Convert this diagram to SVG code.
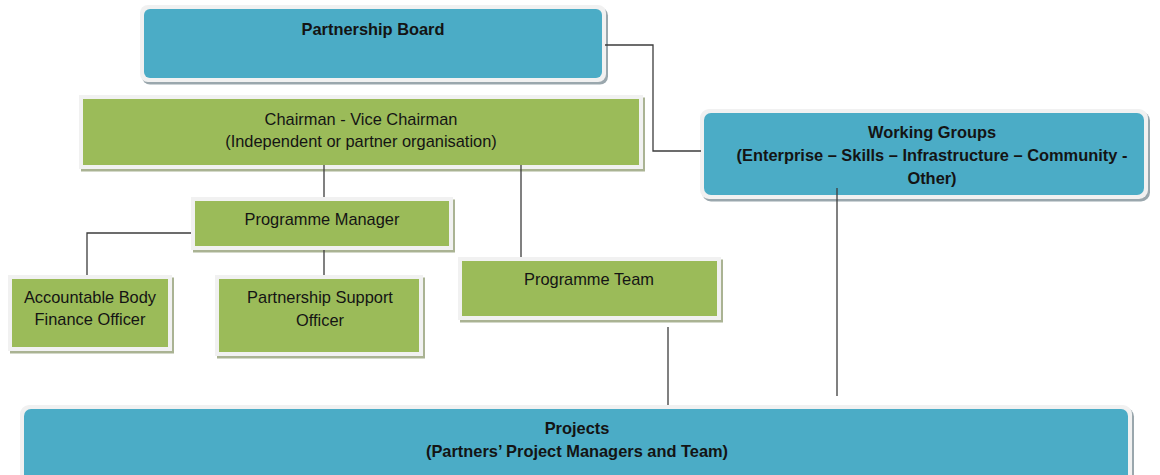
<svg xmlns="http://www.w3.org/2000/svg" width="1160" height="475" viewBox="0 0 1160 475">
  <defs>
    <style>
      .shadow-g { fill: #aab393; }
      .shadow-b { fill: #9aa7ad; }
      .frame { fill: #f1f1f1; }
      .green { fill: #9bbb59; }
      .blue { fill: #4bacc6; }
      .t { font-family: "Liberation Sans", Arial, sans-serif; font-size: 16.4px; fill: #141414; text-anchor: middle; }
      .b { font-weight: bold; }
      .wire { fill: none; stroke: #3c3c3c; stroke-width: 1.3; }
    </style>
  </defs>
  <rect width="1160" height="475" fill="#ffffff"/>

  <!-- Partnership Board -->
  <g id="partnership-board">
    <rect class="shadow-b" x="142" y="7.5" width="466" height="77" rx="8"/>
    <rect class="frame" x="140" y="5" width="466" height="77" rx="8"/>
    <rect class="blue" x="144" y="9" width="458" height="69" rx="6"/>
    <text class="t b" x="373" y="35">Partnership Board</text>
  </g>

  <!-- Chairman - Vice Chairman -->
  <g id="chairman">
    <rect class="shadow-g" x="81" y="97.5" width="564" height="74"/>
    <rect class="frame" x="79" y="95" width="564" height="74"/>
    <rect class="green" x="83" y="99" width="556" height="66"/>
    <text class="t" x="361" y="125">Chairman - Vice Chairman</text>
    <text class="t" x="361" y="147">(Independent or partner organisation)</text>
  </g>

  <!-- Programme Manager -->
  <g id="programme-manager">
    <rect class="shadow-g" x="193" y="199.5" width="262" height="53"/>
    <rect class="frame" x="191" y="197" width="262" height="53"/>
    <rect class="green" x="195" y="201" width="254" height="45"/>
    <text class="t" x="322" y="225">Programme Manager</text>
  </g>

  <!-- Accountable Body Finance Officer -->
  <g id="accountable-body">
    <rect class="shadow-g" x="10" y="277.5" width="164" height="76"/>
    <rect class="frame" x="8" y="275" width="164" height="76"/>
    <rect class="green" x="12" y="279" width="156" height="68"/>
    <text class="t" x="90" y="303">Accountable Body</text>
    <text class="t" x="90" y="325">Finance Officer</text>
  </g>

  <!-- Partnership Support Officer -->
  <g id="partnership-support">
    <rect class="shadow-g" x="217" y="277.5" width="208" height="81"/>
    <rect class="frame" x="215" y="275" width="208" height="81"/>
    <rect class="green" x="219" y="279" width="200" height="73"/>
    <text class="t" x="320" y="303">Partnership Support</text>
    <text class="t" x="320" y="326">Officer</text>
  </g>

  <!-- Programme Team -->
  <g id="programme-team">
    <rect class="shadow-g" x="460" y="259.5" width="263" height="63"/>
    <rect class="frame" x="458" y="257" width="263" height="63"/>
    <rect class="green" x="462" y="261" width="255" height="55"/>
    <text class="t" x="589" y="285">Programme Team</text>
  </g>

  <!-- Working Groups -->
  <g id="working-groups">
    <rect class="shadow-b" x="702" y="111.5" width="448" height="90" rx="9"/>
    <rect class="frame" x="700" y="109" width="448" height="90" rx="9"/>
    <rect class="blue" x="704" y="113" width="440" height="82" rx="7"/>
    <text class="t b" x="932" y="138">Working Groups</text>
    <text class="t b" x="932" y="161">(Enterprise – Skills – Infrastructure – Community -</text>
    <text class="t b" x="932" y="184">Other)</text>
  </g>

  <!-- Projects -->
  <g id="projects">
    <rect class="shadow-b" x="22" y="407.5" width="1112" height="90" rx="9"/>
    <rect class="frame" x="20" y="405" width="1112" height="90" rx="9"/>
    <rect class="blue" x="24" y="409" width="1104" height="82" rx="7"/>
    <text class="t b" x="577" y="434">Projects</text>
    <text class="t b" x="577" y="457">(Partners’ Project Managers and Team)</text>
  </g>

  <!-- Connectors -->
  <g id="connectors">
    <path class="wire" d="M605,45 H653 V151 H701"/>
    <path class="wire" d="M324,165 V197"/>
    <path class="wire" d="M521,165 V257"/>
    <path class="wire" d="M191,233 H87 V275"/>
    <path class="wire" d="M324,250 V275"/>
    <path class="wire" d="M668,327 V405"/>
    <path class="wire" d="M837,188 V396"/>
  </g>
</svg>
